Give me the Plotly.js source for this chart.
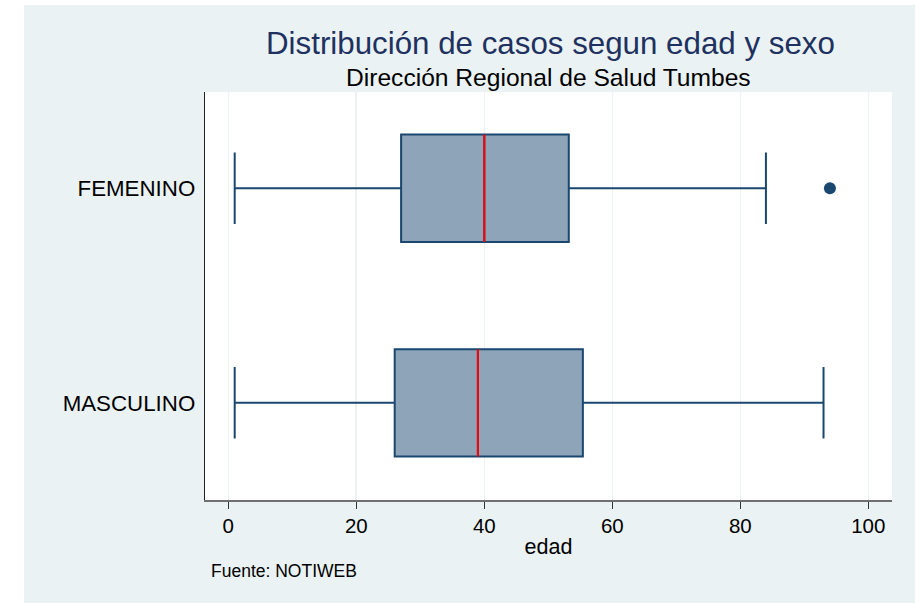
<!DOCTYPE html>
<html>
<head>
<meta charset="utf-8">
<script src="https://cdn.plot.ly/plotly-3.0.1.min.js"></script>
<style>
  html, body { margin: 0; padding: 0; background: #ffffff; width: 922px; height: 603px; overflow: hidden; }
  #chart { position: absolute; left: 24px; top: 5px; width: 891px; height: 598px; }
</style>
</head>
<body>
<div id="chart"></div>
<script>
// Data
const categories = ["FEMENINO", "MASCULINO"];
const q1Values = [27, 26];
const medianValues = [40, 39];
const q3Values = [53.2, 55.4];
const lowerWhisker = [1, 1];
const upperWhisker = [84, 93];
const outlierCategory = ["FEMENINO"];
const outlierValues = [94];
const xTickValues = [0, 20, 40, 60, 80, 100];

const navy = "#1A476F";
const fontFam = "Liberation Sans, Arial, Helvetica, sans-serif";

const boxTrace = {
  type: "box",
  orientation: "h",
  y: categories,
  q1: q1Values,
  median: medianValues,
  q3: q3Values,
  lowerfence: lowerWhisker,
  upperfence: upperWhisker,
  width: 0.5,
  whiskerwidth: 0.667,
  fillcolor: "#8DA4B9",
  line: { color: navy, width: 2 },
  boxpoints: false,
  hoverinfo: "skip",
  showlegend: false
};

const medianTrace = {
  type: "box",
  orientation: "h",
  y: categories,
  q1: medianValues,
  median: medianValues,
  q3: medianValues,
  lowerfence: medianValues,
  upperfence: medianValues,
  width: 0.5,
  whiskerwidth: 0,
  fillcolor: "rgba(0,0,0,0)",
  line: { color: "#FF0000", width: 2 },
  boxpoints: false,
  hoverinfo: "skip",
  showlegend: false
};

const outlierTrace = {
  type: "scatter",
  mode: "markers",
  x: outlierValues,
  y: outlierCategory,
  marker: { color: navy, size: 12 },
  hoverinfo: "skip",
  showlegend: false
};

const layout = {
  width: 891,
  height: 598,
  paper_bgcolor: "#EAF2F3",
  plot_bgcolor: "#FFFFFF",
  margin: { l: 181, r: 23, t: 87, b: 103, pad: 0 },
  font: { family: fontFam, color: "#000000" },
  boxmode: "overlay",
  xaxis: {
    range: [-3.64, 103.7],
    tickvals: xTickValues,
    ticktext: xTickValues.map(String),
    ticks: "outside",
    ticklen: 7,
    tickwidth: 1.3,
    tickcolor: "#333333",
    tickfont: { size: 20.5, family: fontFam, color: "#000000" },
    showgrid: true,
    gridcolor: "#EAF2F3",
    gridwidth: 1.6,
    zeroline: false,
    showline: true,
    linecolor: "#707070",
    linewidth: 1.5,
    title: { text: "edad", font: { size: 21.5, family: fontFam, color: "#000000" }, standoff: 3 }
  },
  yaxis: {
    type: "category",
    categoryarray: categories,
    categoryorder: "array",
    range: [1.453, -0.4485],
    ticks: "",
    ticklabelstandoff: 4,
    tickfont: { size: 22.3, family: fontFam, color: "#000000" },
    showgrid: false,
    zeroline: false,
    showline: true,
    linecolor: "#222222",
    linewidth: 1.3
  },
  annotations: [
    {
      text: "Distribución de casos segun edad y sexo",
      xref: "paper", yref: "paper", x: 0.5, y: 1,
      xanchor: "center", yanchor: "middle", yshift: 49, xshift: 2,
      showarrow: false,
      font: { size: 31.3, family: fontFam, color: "#1E3160" }
    },
    {
      text: "Dirección Regional de Salud Tumbes",
      xref: "paper", yref: "paper", x: 0.5, y: 1,
      xanchor: "center", yanchor: "middle", yshift: 15,
      showarrow: false,
      font: { size: 24.6, family: fontFam, color: "#000000" }
    },
    {
      text: "Fuente: NOTIWEB",
      xref: "paper", yref: "paper", x: 0, y: 0,
      xanchor: "left", yanchor: "middle", xshift: 4, yshift: -71,
      showarrow: false,
      font: { size: 17.5, family: fontFam, color: "#000000" }
    }
  ]
};

Plotly.newPlot("chart", [boxTrace, medianTrace, outlierTrace], layout, { displayModeBar: false, staticPlot: true });
</script>
</body>
</html>
